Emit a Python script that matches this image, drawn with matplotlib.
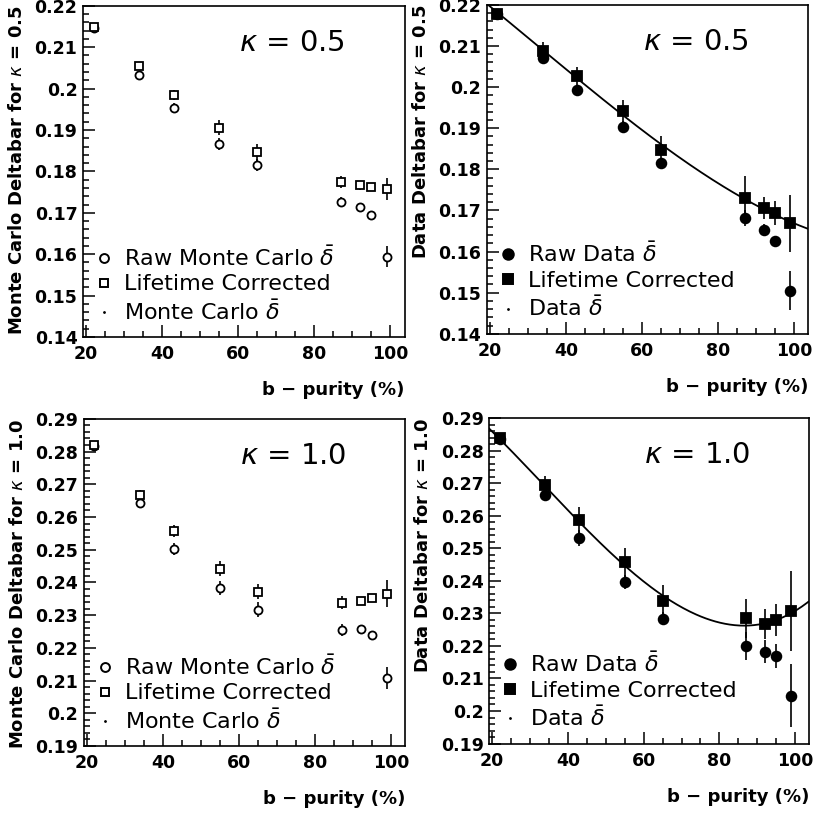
"""
Deltabar vs b-purity for kappa = 0.5 and 1.0 (Monte Carlo and data).
"""

import numpy as np
import matplotlib
matplotlib.use("Agg")
import matplotlib.pyplot as plt
from matplotlib.lines import Line2D
from matplotlib.ticker import MultipleLocator, FuncFormatter

# ── values ───────────────────────────────────────────────────────────────────
purity = [22, 34, 43, 55, 65, 87, 92, 95, 99]

mc05_raw     = [0.2147, 0.2032, 0.1952, 0.1866, 0.1815, 0.1725, 0.1713, 0.1694, 0.1594]
mc05_raw_err = [0.0008, 0.0010, 0.0012, 0.0014, 0.0015, 0.0012, 0.0010, 0.0010, 0.0025]
mc05_cor     = [0.2149, 0.2054, 0.1985, 0.1905, 0.1846, 0.1774, 0.1766, 0.1762, 0.1758]
mc05_cor_err = [0.0008, 0.0010, 0.0012, 0.0018, 0.0020, 0.0014, 0.0010, 0.0010, 0.0026]

mc10_raw     = [0.2818, 0.2643, 0.2503, 0.2383, 0.2317, 0.2254, 0.2259, 0.2240, 0.2107]
mc10_raw_err = [0.0010, 0.0013, 0.0018, 0.0020, 0.0023, 0.0018, 0.0012, 0.0010, 0.0033]
mc10_cor     = [0.2819, 0.2668, 0.2558, 0.2442, 0.2371, 0.2338, 0.2344, 0.2351, 0.2366]
mc10_cor_err = [0.0010, 0.0013, 0.0018, 0.0023, 0.0023, 0.0020, 0.0012, 0.0010, 0.0040]

data05_raw     = [0.2177, 0.2071, 0.1992, 0.1904, 0.1816, 0.1681, 0.1653, 0.1625, 0.1505]
data05_raw_err = [0.0010, 0.0012, 0.0012, 0.0013, 0.0012, 0.0020, 0.0013, 0.0014, 0.0047]
data05_cor     = [0.2179, 0.2089, 0.2027, 0.1941, 0.1847, 0.1730, 0.1705, 0.1694, 0.1669]
data05_cor_err = [0.0010, 0.0020, 0.0022, 0.0028, 0.0033, 0.0053, 0.0027, 0.0030, 0.0069]

data10_raw     = [0.2836, 0.2664, 0.2531, 0.2397, 0.2283, 0.2200, 0.2182, 0.2168, 0.2047]
data10_raw_err = [0.0012, 0.0012, 0.0025, 0.0022, 0.0020, 0.0043, 0.0036, 0.0037, 0.0097]
data10_cor     = [0.2838, 0.2695, 0.2587, 0.2457, 0.2337, 0.2285, 0.2266, 0.2279, 0.2307]
data10_cor_err = [0.0015, 0.0026, 0.0040, 0.0045, 0.0050, 0.0060, 0.0046, 0.0050, 0.0123]

# fit curves drawn through the data panels
fit_x  = [19.2, 20, 30, 40, 50, 60, 70, 80, 90, 100, 103.5]
fit05  = [0.2203, 0.2197, 0.2118, 0.2045, 0.1972, 0.1894, 0.1823, 0.1768, 0.1715, 0.1668, 0.1655]
fit10  = [0.2868, 0.2858, 0.2738, 0.2615, 0.2505, 0.2395, 0.2315, 0.2275, 0.2268, 0.2300, 0.2340]

XLIM = (19.2, 103.7)


def _style_axes(ax, ylim):
    ax.set_xlim(*XLIM)
    ax.set_ylim(*ylim)
    ax.xaxis.set_major_locator(MultipleLocator(20))
    ax.xaxis.set_minor_locator(MultipleLocator(5))
    ax.yaxis.set_major_locator(MultipleLocator(0.01))
    ax.yaxis.set_minor_locator(MultipleLocator(0.002))
    ax.yaxis.set_major_formatter(FuncFormatter(lambda v, p: f"{v:g}"))
    ax.tick_params(which="both", direction="in", top=False, right=False, width=1.1)
    ax.tick_params(which="major", length=8.5)
    ax.tick_params(which="minor", length=4.3)
    ax.tick_params(axis="y", pad=4)
    ax.tick_params(axis="x", pad=6)
    for lab in ax.get_xticklabels() + ax.get_yticklabels():
        lab.set_fontsize(12.5)
        lab.set_fontweight("bold")
    for sp in ax.spines.values():
        sp.set_linewidth(1.2)


def _panel(ax, raw, raw_err, cor, cor_err, filled, ylim, kappa, ylabel, names, fit=None):
    fc = "black" if filled else "white"
    ms = 7 if filled else 5.8
    ax.errorbar(purity, raw, yerr=raw_err, fmt="o", color="black", mfc=fc, mec="black",
                ms=ms, mew=1.3, elinewidth=1.2, capsize=0, zorder=3)
    ax.errorbar(purity, cor, yerr=cor_err, fmt="s", color="black", mfc=fc, mec="black",
                ms=ms, mew=1.3, elinewidth=1.2, capsize=0, zorder=4)
    if fit is not None:
        coef = np.polyfit(fit_x, fit, 3)
        xs = np.linspace(fit_x[0], fit_x[-1], 200)
        ax.plot(xs, np.polyval(coef, xs), color="black", lw=1.3, zorder=2)

    _style_axes(ax, ylim)

    ax.text(0.65, 0.886, rf"$\kappa$ = {kappa}", transform=ax.transAxes,
            ha="center", va="center", fontsize=21)

    handles = [
        Line2D([], [], ls="none", marker="o", mfc=fc, mec="black", ms=ms + 0.6, mew=1.4),
        Line2D([], [], ls="none", marker="s", mfc=fc, mec="black", ms=ms + 0.6, mew=1.4),
        Line2D([], [], ls="none", marker=".", color="black", ms=2),
    ]
    ax.legend(handles, names, loc="lower left", bbox_to_anchor=(0.0, 0.0),
              frameon=False, fontsize=16, handlelength=0.7, handletextpad=0.55,
              labelspacing=0.22, borderaxespad=0.2)

    ax.set_ylabel(ylabel, fontsize=13, fontweight="bold", loc="top", labelpad=6)
    ax.set_xlabel("b − purity (%)", fontsize=13, fontweight="bold", loc="right", labelpad=13)


fig = plt.figure(figsize=(8.14, 8.18), dpi=100)

ax_tl = fig.add_axes([0.102, 0.588, 0.395, 0.405])
ax_tr = fig.add_axes([0.598, 0.592, 0.395, 0.402])
ax_bl = fig.add_axes([0.103, 0.088, 0.395, 0.400])
ax_br = fig.add_axes([0.601, 0.091, 0.393, 0.398])

mc_names = [r"Raw Monte Carlo $\bar{\delta}$", "Lifetime Corrected", r"Monte Carlo $\bar{\delta}$"]
data_names = [r"Raw Data $\bar{\delta}$", "Lifetime Corrected", r"Data $\bar{\delta}$"]

_panel(ax_tl, mc05_raw, mc05_raw_err, mc05_cor, mc05_cor_err, False, (0.14, 0.22), "0.5",
       r"Monte Carlo Deltabar for $\kappa$ = 0.5", mc_names)
_panel(ax_tr, data05_raw, data05_raw_err, data05_cor, data05_cor_err, True, (0.14, 0.22), "0.5",
       r"Data Deltabar for $\kappa$ = 0.5", data_names, fit=fit05)
_panel(ax_bl, mc10_raw, mc10_raw_err, mc10_cor, mc10_cor_err, False, (0.19, 0.29), "1.0",
       r"Monte Carlo Deltabar for $\kappa$ = 1.0", mc_names)
_panel(ax_br, data10_raw, data10_raw_err, data10_cor, data10_cor_err, True, (0.19, 0.29), "1.0",
       r"Data Deltabar for $\kappa$ = 1.0", data_names, fit=fit10)

fig.savefig("out.png", dpi=100)
plt.close(fig)
